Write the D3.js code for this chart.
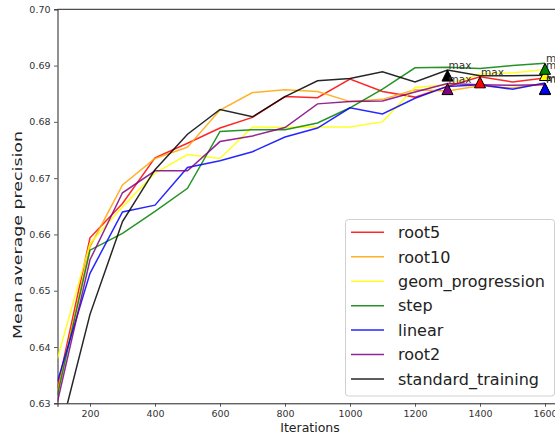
<!DOCTYPE html>
<html>
<head>
<meta charset="utf-8">
<script src="https://cdnjs.cloudflare.com/ajax/libs/d3/7.8.5/d3.min.js"></script>
<style>
  body { margin: 0; background: #fff; }
  svg { display: block; font-family: "DejaVu Sans", sans-serif; }
</style>
</head>
<body>
<svg width="555" height="436"></svg>
<script>
// data
var iterations = [100, 200, 300, 400, 500, 600, 700, 800, 900, 1000, 1100, 1200, 1300, 1400, 1500, 1600];
var seriesNames = ["root5", "root10", "geom_progression", "step", "linear", "root2", "standard_training"];
var seriesColors = ["red", "orange", "yellow", "green", "blue", "purple", "black"];

var root5 = [0.6327, 0.6594, 0.6655, 0.6736, 0.6762, 0.6789, 0.6808, 0.6845, 0.6843, 0.6876, 0.6854, 0.6844, 0.6863, 0.6880, 0.6871, 0.6878];
var root10 = [0.6321, 0.6578, 0.6688, 0.6735, 0.6755, 0.6821, 0.6852, 0.6857, 0.6854, 0.6836, 0.6840, 0.6857, 0.6855, 0.6864, 0.6860, 0.6868];
var geomProgression = [0.6380, 0.6584, 0.6649, 0.6709, 0.6742, 0.6735, 0.6791, 0.6790, 0.6791, 0.6791, 0.6800, 0.6861, 0.6866, 0.6885, 0.6887, 0.6893];
var step = [0.6315, 0.6572, 0.6602, 0.6641, 0.6682, 0.6783, 0.6786, 0.6786, 0.6798, 0.6825, 0.6858, 0.6896, 0.6897, 0.6895, 0.6900, 0.6904];
var linear = [0.6339, 0.6531, 0.6640, 0.6652, 0.6719, 0.6731, 0.6747, 0.6773, 0.6789, 0.6825, 0.6814, 0.6842, 0.6863, 0.6866, 0.6858, 0.6869];
var root2 = [0.6303, 0.6555, 0.6674, 0.6713, 0.6713, 0.6765, 0.6775, 0.6790, 0.6832, 0.6836, 0.6837, 0.6853, 0.6868, 0.6866, 0.6865, 0.6866];
var standardTraining = [0.6230, 0.6458, 0.6623, 0.6715, 0.6778, 0.6822, 0.6809, 0.6845, 0.6873, 0.6877, 0.6889, 0.6871, 0.6892, 0.6882, 0.6882, 0.6883];

var xTicks = [200, 400, 600, 800, 1000, 1200, 1400, 1600];
var yTicks = [0.63, 0.64, 0.65, 0.66, 0.67, 0.68, 0.69, 0.70];

var allSeries = [root5, root10, geomProgression, step, linear, root2, standardTraining];

var svg = d3.select("svg"),
    plotLeft = 57.5, plotTop = 9.3, plotBottom = 403.3, plotRight = 564.5;

var x = d3.scaleLinear().domain([100, 1660]).range([plotLeft, plotRight]);
var y = d3.scaleLinear().domain([0.63, 0.70]).range([plotBottom, plotTop]);

svg.append("defs").append("clipPath").attr("id", "plot-clip")
    .append("rect")
    .attr("x", plotLeft).attr("y", plotTop)
    .attr("width", plotRight - plotLeft).attr("height", plotBottom - plotTop);

// axes
var axisX = svg.append("g")
    .attr("transform", "translate(0," + plotBottom + ")")
    .call(d3.axisBottom(x).tickValues(xTicks).tickSize(3.5).tickPadding(3.5).tickFormat(d3.format("d")));
var axisY = svg.append("g")
    .attr("transform", "translate(" + plotLeft + ",0)")
    .call(d3.axisLeft(y).tickValues(yTicks).tickSize(3.5).tickPadding(3.5).tickFormat(d3.format(".2f")));

[axisX, axisY].forEach(function (a) {
    a.selectAll("text").attr("font-size", 9.5).attr("fill", "#333").attr("font-family", "DejaVu Sans");
    a.selectAll("line").attr("stroke", "#333").attr("stroke-width", 0.8);
    a.select(".domain").attr("stroke", "#222").attr("stroke-width", 1);
});

// top spine
svg.append("line")
    .attr("x1", plotLeft).attr("x2", plotRight)
    .attr("y1", plotTop).attr("y2", plotTop)
    .attr("stroke", "#222").attr("stroke-width", 1);

// lines
var line = d3.line()
    .x(function (d, i) { return x(iterations[i]); })
    .y(function (d) { return y(d); });

var lines = svg.append("g").attr("clip-path", "url(#plot-clip)");
lines.selectAll("path")
    .data(allSeries)
    .enter().append("path")
    .attr("d", line)
    .attr("fill", "none")
    .attr("stroke", function (d, i) { return seriesColors[i]; })
    .attr("stroke-width", 1.5)
    .attr("stroke-opacity", 0.85);

// max markers
var maxPoints = allSeries.map(function (s, i) {
    var k = d3.maxIndex(s);
    return { it: iterations[k], v: s[k], color: seriesColors[i] };
});

var markers = svg.append("g");
markers.selectAll("path")
    .data(maxPoints)
    .enter().append("path")
    .attr("transform", function (d) { return "translate(" + x(d.it) + "," + y(d.v) + ")"; })
    .attr("d", "M0,0L5.5,11L-5.5,11Z")
    .attr("fill", function (d) { return d.color; })
    .attr("stroke", "#000")
    .attr("stroke-width", 1);

markers.selectAll("text")
    .data(maxPoints)
    .enter().append("text")
    .attr("x", function (d) { return x(d.it) + 1; })
    .attr("y", function (d) { return y(d.v) - 1; })
    .attr("font-size", 10.5)
    .attr("fill", "#333")
    .text("max");

// axis labels
svg.append("text")
    .attr("x", 310).attr("y", 432)
    .attr("text-anchor", "middle")
    .attr("font-size", 12.5)
    .attr("fill", "#222")
    .text("Iterations");

svg.append("text")
    .attr("transform", "translate(22,235) rotate(-90)")
    .attr("text-anchor", "middle")
    .attr("font-size", 13)
    .attr("fill", "#222")
    .attr("textLength", 208)
    .attr("lengthAdjust", "spacingAndGlyphs")
    .text("Mean average precision");

// legend
var legend = svg.append("g");
legend.append("rect")
    .attr("x", 345.5).attr("y", 219.5)
    .attr("width", 209).attr("height", 176.5)
    .attr("rx", 3)
    .attr("fill", "#fff").attr("fill-opacity", 0.85)
    .attr("stroke", "#d0d0d0");

var items = legend.selectAll("g.item")
    .data(seriesNames)
    .enter().append("g")
    .attr("class", "item")
    .attr("transform", function (d, i) { return "translate(0," + (232.3 + i * 24.45) + ")"; });

items.append("line")
    .attr("x1", 351).attr("x2", 384)
    .attr("stroke", function (d, i) { return seriesColors[i]; })
    .attr("stroke-width", 1.5)
    .attr("stroke-opacity", 0.85);

items.append("text")
    .attr("x", 398)
    .attr("dy", "0.36em")
    .attr("font-size", 16)
    .attr("fill", "#222")
    .text(function (d) { return d; });
</script>
</body>
</html>
